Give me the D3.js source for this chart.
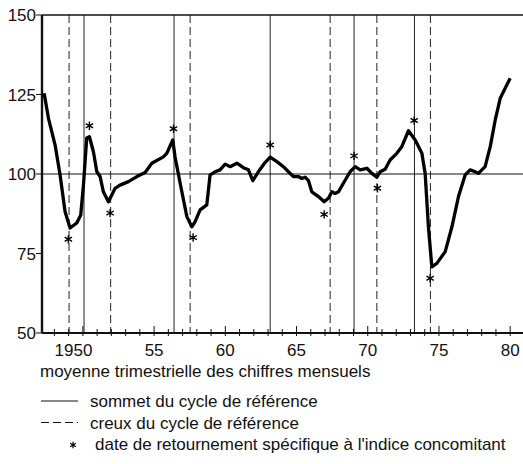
<!DOCTYPE html>
<meta charset="utf-8">
<title>Indice concomitant</title>
<style>

body {
  margin: 0;
  background: #fff;
}

svg {
  font: 17px "Liberation Sans", Arial, sans-serif;
}

.ref {
  stroke: #222;
  stroke-width: 1;
  fill: none;
}

.trough {
  stroke-dasharray: 8,4;
}

</style>
<body>
<script src="https://d3js.org/d3.v7.min.js"></script>
<script>

// indice concomitant, moyenne trimestrielle (année décimale, valeur)
var series = [
  [1947.28,125.4],[1947.58,117.6],[1948.05,109.1],[1948.40,99.7],[1948.75,88.1],[1949.10,83.0],
  [1949.57,84.6],[1949.85,87.1],[1950.04,96.5],[1950.27,111.3],[1950.46,111.7],[1950.74,107.0],
  [1950.98,100.7],[1951.21,99.2],[1951.44,94.4],[1951.79,91.3],[1952.03,93.4],[1952.26,95.5],
  [1952.61,96.5],[1953.20,97.6],[1953.79,99.2],[1954.37,100.5],[1954.84,103.4],[1955.65,105.4],
  [1955.89,106.5],[1956.31,110.7],[1956.47,105.4],[1956.83,97.1],[1957.30,86.6],[1957.65,83.4],
  [1957.88,85.0],[1958.23,88.7],[1958.70,90.3],[1958.93,99.7],[1959.28,100.7],[1959.63,101.3],
  [1959.99,103.1],[1960.34,102.3],[1960.81,103.4],[1961.27,102.0],[1961.62,101.3],[1961.93,97.9],
  [1962.32,100.7],[1962.79,103.6],[1963.15,105.3],[1963.62,103.9],[1964.08,102.3],[1964.43,100.7],
  [1964.78,99.2],[1965.13,99.2],[1965.37,98.6],[1965.60,99.0],[1965.84,97.9],[1966.07,94.4],
  [1966.54,92.9],[1966.94,91.3],[1967.24,92.4],[1967.48,94.4],[1967.71,93.9],[1967.94,94.4],
  [1968.29,97.1],[1968.76,100.7],[1969.12,102.3],[1969.47,101.3],[1969.94,101.8],[1970.29,100.2],
  [1970.64,99.0],[1970.87,100.7],[1971.22,101.5],[1971.57,104.4],[1972.04,106.5],[1972.39,108.6],
  [1972.86,113.6],[1973.33,110.7],[1973.80,106.5],[1974.03,100.2],[1974.26,83.4],[1974.50,70.8],
  [1974.85,71.9],[1975.44,75.6],[1975.91,83.4],[1976.37,92.9],[1976.84,99.7],[1977.19,101.3],
  [1977.54,100.7],[1977.77,100.2],[1978.24,102.3],[1978.60,108.6],[1978.95,117.0],[1979.30,123.8],
  [1979.65,127.0],[1980.00,130.1]
];

// sommets et creux du cycle de référence
var peaks = [1950.08, 1956.40, 1963.15, 1969.04, 1973.28];
var troughs = [1949.03, 1951.95, 1957.53, 1967.36, 1970.64, 1974.40];

// dates de retournement spécifiques (position de l'astérisque)
var turns = [
  [1948.98,79.5],[1950.46,115.2],[1951.91,87.7],[1956.36,114.2],[1957.74,80.0],[1963.15,109.1],
  [1966.94,87.3],[1969.04,105.7],[1970.68,95.5],[1973.26,116.8],[1974.38,67.2]
];

var yTicks = [50, 75, 100, 125, 150];
var xMajor = [1950, 1955, 1960, 1965, 1970, 1975, 1980];
var xLabels = ["1950", "55", "60", "65", "70", "75", "80"];
var xMinor = d3.range(1948, 1981);

var legendItems = [
  {type: "peak", label: "sommet du cycle de référence"},
  {type: "trough", label: "creux du cycle de référence"},
  {type: "star", label: "date de retournement spécifique à l'indice concomitant"}
];

var plotLeft = 42, plotRight = 523, plotTop = 15, plotBottom = 333;

var x = d3.scaleLinear()
    .domain([1947.13, 1980.9])
    .range([plotLeft, plotRight]);

var y = d3.scaleLinear()
    .domain([50, 150])
    .range([plotBottom, plotTop]);

var svg = d3.select("body").append("svg")
    .attr("width", 523)
    .attr("height", 464);

// lignes de référence verticales
svg.selectAll(".peak")
    .data(peaks)
  .enter().append("line")
    .attr("class", "ref peak")
    .attr("x1", x).attr("x2", x)
    .attr("y1", plotTop).attr("y2", plotBottom);

svg.selectAll(".trough")
    .data(troughs)
  .enter().append("line")
    .attr("class", "ref trough")
    .attr("x1", x).attr("x2", x)
    .attr("y1", plotTop).attr("y2", plotBottom);

// ligne 100
svg.append("line")
    .attr("x1", plotLeft).attr("x2", plotRight)
    .attr("y1", y(100)).attr("y2", y(100))
    .attr("stroke", "#111")
    .attr("stroke-width", 1.2);

// cadre haut
svg.append("line")
    .attr("x1", plotLeft).attr("x2", plotRight)
    .attr("y1", plotTop).attr("y2", plotTop)
    .attr("stroke", "#111")
    .attr("stroke-width", 1.6);

// axe y
var yAxis = svg.append("g");
yAxis.append("line")
    .attr("x1", plotLeft).attr("x2", plotLeft)
    .attr("y1", plotTop).attr("y2", plotBottom)
    .attr("stroke", "#111")
    .attr("stroke-width", 2.4);
yAxis.selectAll(".ytick")
    .data(yTicks)
  .enter().append("line")
    .attr("x1", plotLeft - 6).attr("x2", plotLeft)
    .attr("y1", y).attr("y2", y)
    .attr("stroke", "#111");
yAxis.selectAll(".ylab")
    .data(yTicks)
  .enter().append("text")
    .attr("x", plotLeft - 6)
    .attr("y", y)
    .attr("dy", "0.36em")
    .attr("text-anchor", "end")
    .attr("fill", "#111")
    .text(function(d) { return d; });

// axe x
var xAxis = svg.append("g");
xAxis.append("line")
    .attr("x1", plotLeft).attr("x2", plotRight)
    .attr("y1", plotBottom).attr("y2", plotBottom)
    .attr("stroke", "#111")
    .attr("stroke-width", 2.2);
xAxis.selectAll(".minor")
    .data(xMinor)
  .enter().append("line")
    .attr("x1", x).attr("x2", x)
    .attr("y1", function(d) { return d % 5 === 0 ? plotBottom - 7 : plotBottom - 4; })
    .attr("y2", plotBottom + 3)
    .attr("stroke", "#111");
xAxis.selectAll(".xlab")
    .data(xMajor)
  .enter().append("text")
    .attr("x", function(d, i) { return i === 0 ? x(d) + 9.5 : x(d); })
    .attr("y", plotBottom + 23)
    .attr("text-anchor", function(d, i) { return i === 0 ? "end" : "middle"; })
    .attr("fill", "#111")
    .text(function(d, i) { return xLabels[i]; });

// courbe
var line = d3.line()
    .x(function(d) { return x(d[0]); })
    .y(function(d) { return y(d[1]); });

svg.append("path")
    .datum(series)
    .attr("d", line)
    .attr("fill", "none")
    .attr("stroke", "#000")
    .attr("stroke-width", 3.3)
    .attr("stroke-linejoin", "round");

// astérisques
var star = d3.symbol().type(d3.symbolAsterisk).size(50);

svg.selectAll(".star")
    .data(turns)
  .enter().append("path")
    .attr("d", star)
    .attr("transform", function(d) { return "translate(" + x(d[0]) + "," + y(d[1]) + ")"; })
    .attr("fill", "none")
    .attr("stroke", "#000")
    .attr("stroke-width", 1.4);

// légende
svg.append("text")
    .attr("x", 40)
    .attr("y", 377)
    .attr("fill", "#111")
    .text("moyenne trimestrielle des chiffres mensuels");

var legend = svg.selectAll(".legend")
    .data(legendItems)
  .enter().append("g")
    .attr("transform", function(d, i) { return "translate(0," + (401 + i * 21.5) + ")"; });

legend.filter(function(d) { return d.type !== "star"; })
  .append("line")
    .attr("x1", 41).attr("x2", 78)
    .attr("y1", 0).attr("y2", 0)
    .attr("stroke", "#111")
    .attr("stroke-width", 1.2)
    .attr("stroke-dasharray", function(d) { return d.type === "trough" ? "8,4" : null; });

legend.filter(function(d) { return d.type === "star"; })
  .append("path")
    .attr("d", d3.symbol().type(d3.symbolAsterisk).size(30))
    .attr("transform", "translate(73,1)")
    .attr("fill", "none")
    .attr("stroke", "#000")
    .attr("stroke-width", 1.2);

legend.append("text")
    .attr("x", function(d) { return d.type === "star" ? 95 : 90; })
    .attr("y", 0)
    .attr("dy", "0.36em")
    .attr("fill", "#111")
    .text(function(d) { return d.label; });

</script>
</body>
